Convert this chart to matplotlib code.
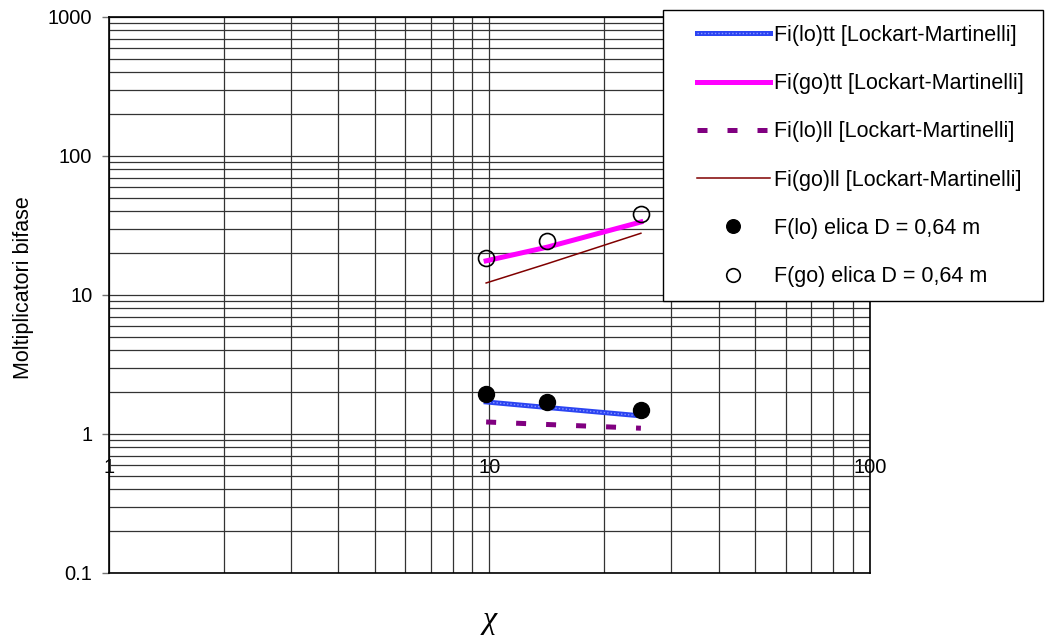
import matplotlib
matplotlib.use("Agg")
import matplotlib.pyplot as plt
from matplotlib.patches import Rectangle
from matplotlib.legend_handler import HandlerTuple
from matplotlib.ticker import FixedLocator, LogLocator, NullFormatter, NullLocator

plt.rcParams['font.family'] = ['Liberation Sans', 'DejaVu Sans']

# Lockhart-Martinelli parameter
chi = [9.8, 14.2, 25.0]

# model curves
fi_lo_tt = [1.70, 1.55, 1.35]
fi_go_tt = [17.6, 22.1, 33.5]
fi_lo_ll = [1.22, 1.17, 1.10]
fi_go_ll = [12.2, 16.8, 27.8]

# measured values, helical coil D = 0.64 m
f_lo = [1.94, 1.70, 1.49]
f_go = [18.5, 24.4, 38.3]

x_ticks = [1, 10, 100]
y_ticks = [0.1, 1, 10, 100, 1000]
y_tick_labels = ["0.1", "1", "10", "100", "1000"]

fig = plt.figure(figsize=(10.45, 6.36), dpi=100)
ax = fig.add_axes([0.1043, 0.0991, 0.7282, 0.8742])
ax.set_xscale('log')
ax.set_yscale('log')
ax.set_xlim(1, 100)
ax.set_ylim(0.1, 1000)

# gridlines, major and minor
ax.xaxis.set_major_locator(FixedLocator(x_ticks))
ax.xaxis.set_minor_locator(LogLocator(base=10, subs=range(2, 10)))
ax.yaxis.set_major_locator(FixedLocator(y_ticks))
ax.yaxis.set_minor_locator(LogLocator(base=10, subs=range(2, 10)))
ax.xaxis.set_minor_formatter(NullFormatter())
ax.yaxis.set_minor_formatter(NullFormatter())
ax.set_yticklabels(y_tick_labels)
ax.grid(True, which='both', color='0.2', linewidth=0.9)
ax.set_axisbelow(True)

ax.tick_params(axis='x', which='both', length=0, labelbottom=False)
ax.tick_params(axis='y', which='major', length=5, width=1, color='0.45',
               labelsize=14.5, pad=7)
ax.tick_params(axis='y', which='minor', length=0)
for s in ax.spines.values():
    s.set_color('black')
    s.set_linewidth(1.2)

# x tick labels sit on the y = 1 line (Excel style axis crossing)
sec = ax.secondary_xaxis(0.25)
sec.set_xscale('log')
sec.xaxis.set_major_locator(FixedLocator(x_ticks))
sec.xaxis.set_minor_locator(NullLocator())
sec.set_xticklabels([str(v) for v in x_ticks])
sec.tick_params(axis='x', length=0, labelsize=14.5, pad=17)
sec.spines['bottom'].set_visible(False)

# blue line with a lighter dotted texture on top
lo_tt_base, = ax.plot(chi, fi_lo_tt, color='#2b44f2', linewidth=3.6, zorder=3)
lo_tt_dots, = ax.plot(chi, fi_lo_tt, color='#8a98ff', linewidth=1.0,
                      linestyle=(0, (1, 1.5)), zorder=3)
go_tt, = ax.plot(chi, fi_go_tt, color='#ff00ff', linewidth=3.6, zorder=3)
lo_ll, = ax.plot(chi, fi_lo_ll, color='#800080', linewidth=3.6,
                 dashes=(2, 4), zorder=3)
go_ll, = ax.plot(chi, fi_go_ll, color='#800000', linewidth=1.1, zorder=3)
m_lo, = ax.plot(chi, f_lo, linestyle='none', marker='o', markersize=11.5,
                color='black', zorder=4)
m_go, = ax.plot(chi, f_go, linestyle='none', marker='o', markersize=11.5,
                markerfacecolor='none', markeredgecolor='black',
                markeredgewidth=1.2, zorder=4)

ax.set_ylabel('Moltiplicatori bifase', fontsize=15.5)
ax.yaxis.set_label_coords(-0.099, 0.513)
fig.text(0.469, 0.025, 'χ', fontsize=23, family=['Liberation Serif', 'DejaVu Serif'],
         style='italic', ha='center', va='center')

# legend box drawn separately so the entries can sit inside with Excel spacing
box = Rectangle((663 / 1045, 1 - 301 / 636), 380 / 1045, 291 / 636,
                transform=fig.transFigure, facecolor='white', edgecolor='black',
                linewidth=1.0, zorder=2)
fig.patches.append(box)

handles = [(lo_tt_base, lo_tt_dots), go_tt, lo_ll, go_ll, m_lo, m_go]
labels = ['Fi(lo)tt [Lockart-Martinelli]', 'Fi(go)tt [Lockart-Martinelli]',
          'Fi(lo)ll [Lockart-Martinelli]', 'Fi(go)ll [Lockart-Martinelli]',
          'F(lo) elica D = 0,64 m', 'F(go) elica D = 0,64 m']
leg = fig.legend(handles, labels, loc='upper left',
                 bbox_to_anchor=(697 / 1045, 1 - 25 / 636),
                 bbox_transform=fig.transFigure, borderaxespad=0, borderpad=0,
                 fontsize=15.5, handlelength=3.39, handletextpad=0.19,
                 labelspacing=1.265, markerscale=0.85, frameon=False,
                 handler_map={tuple: HandlerTuple(ndivide=1)})
leg.set_zorder(5)

fig.savefig('out.png', dpi=100)
